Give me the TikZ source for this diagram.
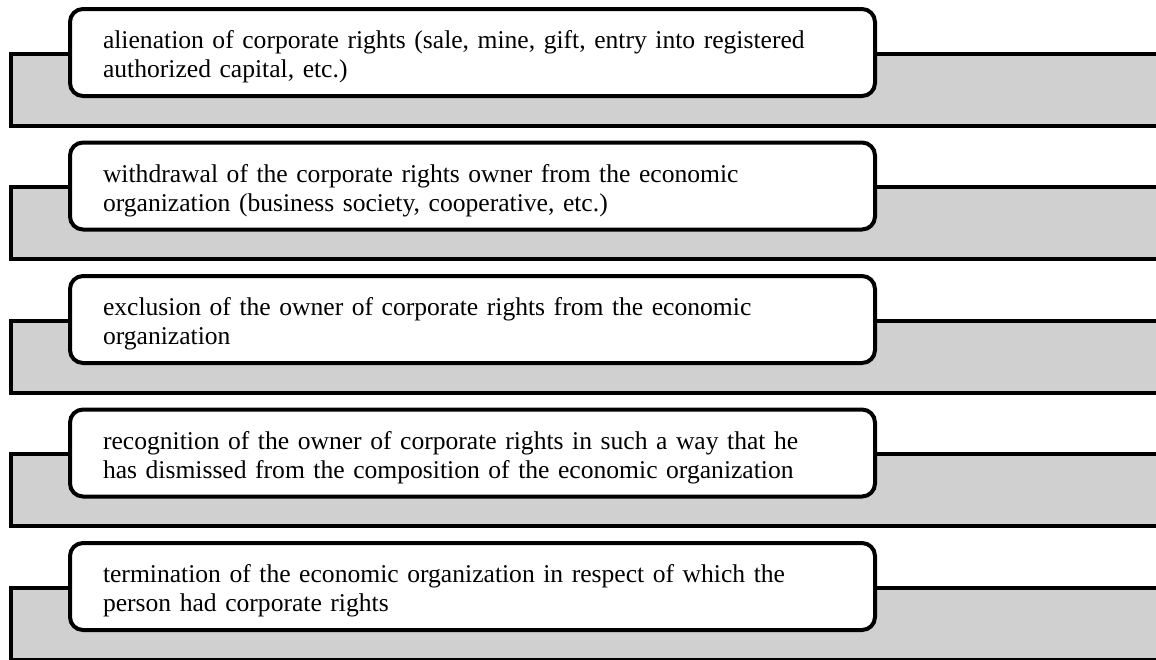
\documentclass[tikz,border=0pt]{standalone}
\usepackage{fontspec}
\setmainfont{Liberation Serif}
\usepackage{tikz}
\usetikzlibrary{positioning}
\definecolor{bandgrau}{RGB}{208,208,208}

\begin{document}
\begin{tikzpicture}[band/.style={draw, fill=bandgrau, line width=4pt, anchor=north west, outer sep=0pt, inner sep=0pt, minimum width=1160pt, minimum height=72pt},
			item/.style={draw, fill=white, line width=4pt, rounded corners=13pt, anchor=north west, outer sep=0pt, inner xsep=33pt, inner ysep=0pt, minimum height=87pt, text width=739pt, text height=27pt, text depth=35pt, align=left},
			x=1pt, y=-1pt,
			font=\fontsize{25.6}{29}\selectfont]
			%Bildbereich festlegen
			\useasboundingbox (0,0) rectangle (1156,659);
			%Streifen und Kaesten zeichnen
			\foreach \i/\txt in {
				1/{alienation of corporate rights (sale, mine, gift, entry into registered\\ authorized capital, etc.)},
				2/{withdrawal of the corporate rights owner from the economic\\ organization (business society, cooperative, etc.)},
				3/{exclusion of the owner of corporate rights from the economic\\ organization},
				4/{recognition of the owner of corporate rights in such a way that he\\ has dismissed from the composition of the economic organization},
				5/{termination of the economic organization in respect of which the\\ person had corporate rights}}
			{
				\node[band] (band\i) at (11,{53.5+133.5*(\i-1)}) {};
				\node[item] (item\i) at (70,{9+133.5*(\i-1)}) {\txt};
			}
		\end{tikzpicture}
\end{document}
